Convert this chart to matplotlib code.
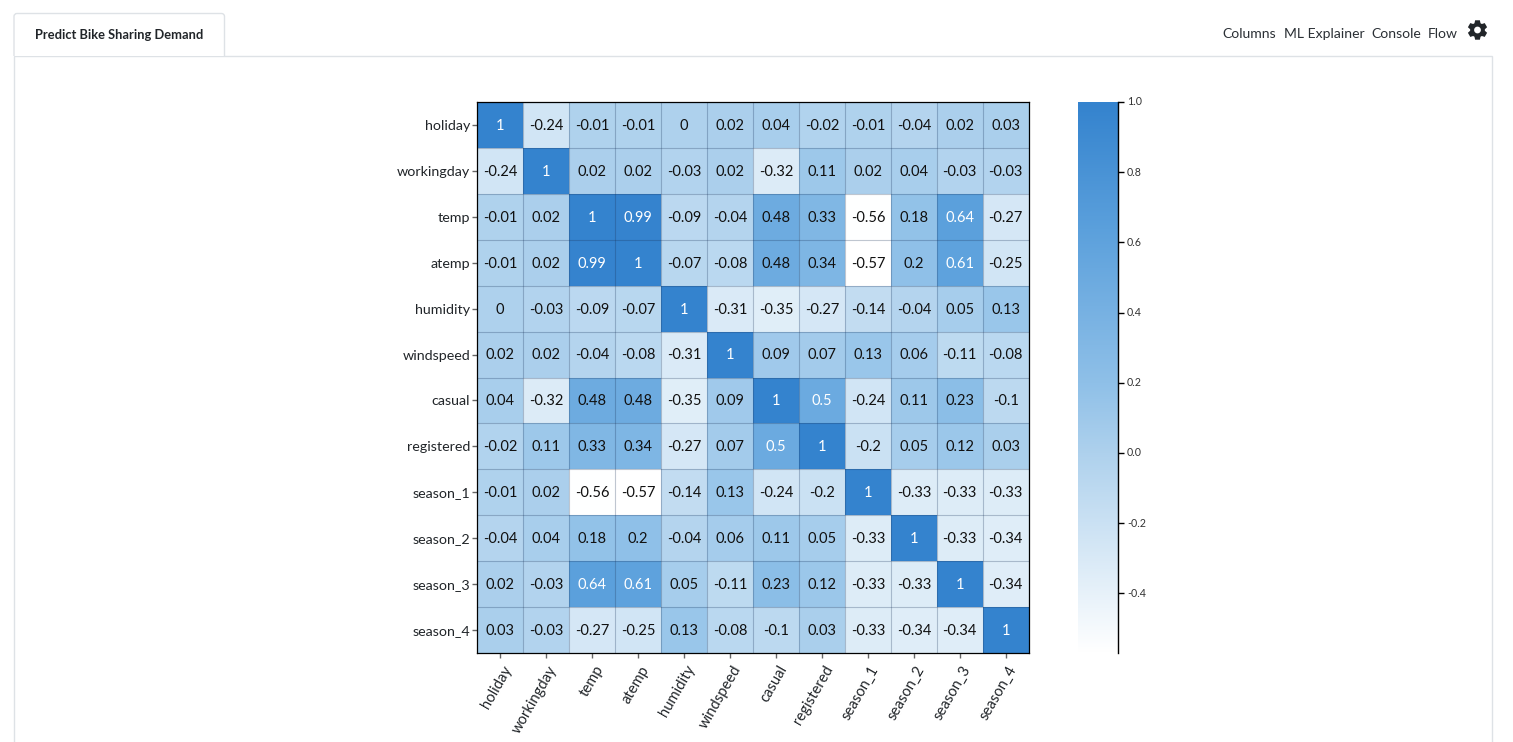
import numpy as np
import matplotlib
matplotlib.use("Agg")
import matplotlib.pyplot as plt
from matplotlib.colors import LinearSegmentedColormap
from matplotlib.patches import FancyBboxPatch, Rectangle, PathPatch
from matplotlib.path import Path
from matplotlib.transforms import ScaledTranslation

plt.rcParams['font.family'] = ['Lato', 'Open Sans', 'DejaVu Sans']

features = ["holiday", "workingday", "temp", "atemp", "humidity", "windspeed",
            "casual", "registered", "season_1", "season_2", "season_3", "season_4"]
holiday = [1, -0.24, -0.01, -0.01, 0, 0.02, 0.04, -0.02, -0.01, -0.04, 0.02, 0.03]
workingday = [-0.24, 1, 0.02, 0.02, -0.03, 0.02, -0.32, 0.11, 0.02, 0.04, -0.03, -0.03]
temp = [-0.01, 0.02, 1, 0.99, -0.09, -0.04, 0.48, 0.33, -0.56, 0.18, 0.64, -0.27]
atemp = [-0.01, 0.02, 0.99, 1, -0.07, -0.08, 0.48, 0.34, -0.57, 0.2, 0.61, -0.25]
humidity = [0, -0.03, -0.09, -0.07, 1, -0.31, -0.35, -0.27, -0.14, -0.04, 0.05, 0.13]
windspeed = [0.02, 0.02, -0.04, -0.08, -0.31, 1, 0.09, 0.07, 0.13, 0.06, -0.11, -0.08]
casual = [0.04, -0.32, 0.48, 0.48, -0.35, 0.09, 1, 0.5, -0.24, 0.11, 0.23, -0.1]
registered = [-0.02, 0.11, 0.33, 0.34, -0.27, 0.07, 0.5, 1, -0.2, 0.05, 0.12, 0.03]
season_1 = [-0.01, 0.02, -0.56, -0.57, -0.14, 0.13, -0.24, -0.2, 1, -0.33, -0.33, -0.33]
season_2 = [-0.04, 0.04, 0.18, 0.2, -0.04, 0.06, 0.11, 0.05, -0.33, 1, -0.33, -0.34]
season_3 = [0.02, -0.03, 0.64, 0.61, 0.05, -0.11, 0.23, 0.12, -0.33, -0.33, 1, -0.34]
season_4 = [0.03, -0.03, -0.27, -0.25, 0.13, -0.08, -0.1, 0.03, -0.33, -0.34, -0.34, 1]
matrix = np.array([holiday, workingday, temp, atemp, humidity, windspeed,
                   casual, registered, season_1, season_2, season_3, season_4])
cbar_ticks = [-0.4, -0.2, 0.0, 0.2, 0.4, 0.6, 0.8, 1.0]
nav_items = [("Columns", 1222), ("ML Explainer", 1284), ("Console", 1371), ("Flow", 1428)]

W, H = 1513, 742
fig = plt.figure(figsize=(W / 100, H / 100), dpi=100, facecolor="white")


def ax_px(x0, y0, x1, y1):
    return fig.add_axes([x0 / W, 1 - y1 / H, (x1 - x0) / W, (y1 - y0) / H])


# page chrome
chrome = fig.add_axes([0, 0, 1, 1], zorder=0)
chrome.set_xlim(0, W)
chrome.set_ylim(H, 0)
chrome.axis("off")
edge = "#dee2e6"
chrome.add_patch(Rectangle((14, 56), 1478, 700, fc="white", ec=edge, lw=1))
tab = FancyBboxPatch((14, 13.5), 210.5, 60, boxstyle="round,pad=0,rounding_size=3",
                     fc="white", ec=edge, lw=1, zorder=2)
chrome.add_patch(tab)
tab.set_clip_path(Rectangle((0, 0), W, 55.5, transform=chrome.transData))
chrome.text(119.5, 35, "Predict Bike Sharing Demand", ha="center", va="center",
            fontsize=9.25, fontweight="bold", color="#212529", zorder=4)
for label, x in nav_items:
    chrome.text(x, 34, label, ha="left", va="center", fontsize=10.1, color="#2b3035")

# gear icon
cx, cy = 1477.5, 30
n_teeth = 6
verts, codes = [], []
for k in range(n_teeth):
    a = 2 * np.pi * k / n_teeth - np.pi / 2
    for da, r in [(-0.42, 7.4), (-0.24, 10), (0.24, 10), (0.42, 7.4)]:
        verts.append((cx + r * np.cos(a + da), cy + r * np.sin(a + da)))
        codes.append(Path.LINETO)
codes[0] = Path.MOVETO
verts.append(verts[0])
codes.append(Path.CLOSEPOLY)
hole = np.linspace(2 * np.pi, 0, 24)
for i, a in enumerate(hole):
    verts.append((cx + 3.4 * np.cos(a), cy + 3.4 * np.sin(a)))
    codes.append(Path.MOVETO if i == 0 else Path.LINETO)
verts.append(verts[-1])
codes.append(Path.CLOSEPOLY)
chrome.add_patch(PathPatch(Path(verts, codes), fc="#212529", ec="none"))

# heatmap
cmap = LinearSegmentedColormap.from_list(
    "blues_w",
    [(0.0, "#ffffff"), (0.363, "#aed1ed"), (0.49, "#8fc0e8"), (0.77, "#5ba0dc"), (1.0, "#3483ce")])
vmin, vmax = matrix.min(), matrix.max()
ax = ax_px(477, 102, 1028.5, 653)
ax.set_zorder(5)
n = len(features)
ax.pcolormesh(np.arange(n + 1), np.arange(n + 1), matrix, cmap=cmap, vmin=vmin, vmax=vmax)
ax.vlines(np.arange(1, n), 0, n, color=(0.1, 0.2, 0.35), alpha=0.28, lw=0.8)
ax.hlines(np.arange(1, n), 0, n, color=(0.1, 0.2, 0.35), alpha=0.28, lw=0.8)
ax.set_xlim(0, n)
ax.set_ylim(n, 0)
ax.set_xticks(np.arange(n) + 0.5)
ax.set_yticks(np.arange(n) + 0.5)
ax.set_xticklabels(features, rotation=60, ha="right", rotation_mode="anchor", fontsize=10.6, color="#212529")
ax.set_yticklabels(features, fontsize=10.3, color="#212529")
ax.tick_params(axis="both", length=3.5, width=1, color="#666666", pad=1.5)
ax.tick_params(axis="x", pad=3)
shift = ScaledTranslation(2 / 100, -1 / 100, fig.dpi_scale_trans)
for lab in ax.get_xticklabels():
    lab.set_transform(lab.get_transform() + shift)
for s in ax.spines.values():
    s.set_linewidth(0.9)
    s.set_color("black")
for i in range(n):
    for j in range(n):
        v = matrix[i, j]
        ax.text(j + 0.505, i + 0.52, f"{v:g}", ha="center", va="center", fontsize=10.5,
                color="white" if v >= 0.5 else "#111111")

# colour bar
cax = ax_px(1078, 102, 1118, 653)
cax.set_zorder(5)
grad = np.linspace(vmax, vmin, 256).reshape(-1, 1)
cax.imshow(grad, aspect="auto", cmap=cmap, vmin=vmin, vmax=vmax, extent=[0, 1, vmin, vmax])
cax.set_xticks([])
cax.yaxis.tick_right()
cax.set_yticks(cbar_ticks)
cax.set_yticklabels([f"{t:.1f}" for t in cbar_ticks], fontsize=7.7, color="#333333")
cax.tick_params(axis="y", length=4, width=1, color="black", pad=2.5)
up = ScaledTranslation(0, 1 / 100, fig.dpi_scale_trans)
for lab in cax.get_yticklabels():
    lab.set_transform(lab.get_transform() + up)
for k, s in cax.spines.items():
    s.set_visible(k == "right")
cax.spines["right"].set_linewidth(1)

fig.savefig("out.png", dpi=100, facecolor="white")
